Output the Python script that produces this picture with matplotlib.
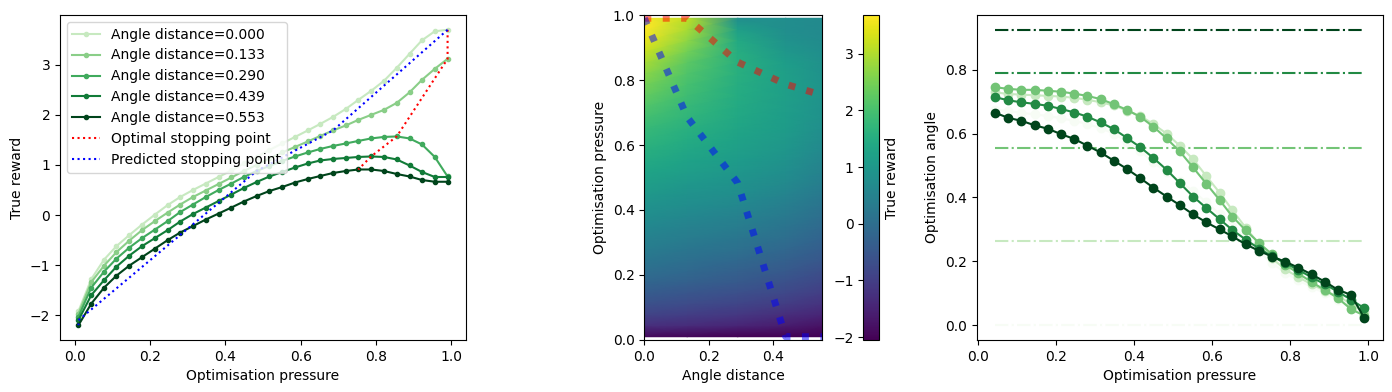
import numpy as np
import matplotlib
matplotlib.use("Agg")
import matplotlib.pyplot as plt

# Angle distances of the five slices
angles = [0.000, 0.133, 0.290, 0.439, 0.553]

# Optimisation pressure grid
pressures = [0.010, 0.044, 0.078, 0.111, 0.145, 0.179, 0.213, 0.247, 0.280, 0.314,
             0.348, 0.382, 0.416, 0.449, 0.483, 0.517, 0.551, 0.585, 0.619, 0.652,
             0.686, 0.720, 0.753, 0.787, 0.821, 0.855, 0.889, 0.922, 0.956, 0.990]

# True reward along pressure, one list per angle distance
reward_000 = [-1.92, -1.28, -0.89, -0.62, -0.40, -0.19, 0.01, 0.20, 0.36, 0.50,
              0.63, 0.76, 0.89, 1.03, 1.16, 1.30, 1.43, 1.56, 1.69, 1.82,
              1.96, 2.12, 2.30, 2.48, 2.68, 2.94, 3.22, 3.49, 3.67, 3.70]
reward_133 = [-1.97, -1.34, -1.01, -0.74, -0.51, -0.30, -0.12, 0.05, 0.21, 0.36,
              0.49, 0.62, 0.75, 0.88, 1.00, 1.13, 1.25, 1.36, 1.47, 1.58,
              1.69, 1.79, 1.90, 2.00, 2.10, 2.24, 2.45, 2.70, 2.92, 3.12]
reward_290 = [-2.03, -1.45, -1.13, -0.87, -0.65, -0.46, -0.29, -0.12, 0.06, 0.21,
              0.36, 0.50, 0.63, 0.76, 0.88, 0.98, 1.08, 1.17, 1.25, 1.32,
              1.38, 1.43, 1.48, 1.53, 1.56, 1.57, 1.53, 1.41, 1.16, 0.77]
reward_439 = [-2.10, -1.60, -1.30, -1.03, -0.81, -0.62, -0.46, -0.30, -0.13, 0.02,
              0.15, 0.28, 0.41, 0.54, 0.66, 0.77, 0.86, 0.95, 1.03, 1.09,
              1.12, 1.14, 1.16, 1.17, 1.16, 1.11, 0.99, 0.86, 0.76, 0.76]
reward_553 = [-2.20, -1.77, -1.45, -1.21, -1.01, -0.84, -0.67, -0.50, -0.35, -0.22,
              -0.09, 0.03, 0.15, 0.27, 0.38, 0.48, 0.56, 0.65, 0.72, 0.78,
              0.84, 0.88, 0.91, 0.91, 0.88, 0.82, 0.77, 0.70, 0.665, 0.665]
rewards = [reward_000, reward_133, reward_290, reward_439, reward_553]

# Index of the predicted stopping pressure for each slice
predicted_idx = [29, 20, 14, 0, 0]

# Right panel: optimisation angle against pressure (pressures[1:])
angle_c0 = [0.675, 0.670, 0.665, 0.660, 0.655, 0.648, 0.640, 0.630, 0.617, 0.600,
            0.575, 0.545, 0.510, 0.480, 0.450, 0.420, 0.385, 0.348, 0.310, 0.270,
            0.230, 0.195, 0.165, 0.140, 0.120, 0.100, 0.080, 0.060, 0.030]
angle_c1 = [0.729, 0.724, 0.722, 0.720, 0.718, 0.716, 0.712, 0.706, 0.698, 0.688,
            0.672, 0.655, 0.630, 0.600, 0.562, 0.520, 0.467, 0.415, 0.360, 0.305,
            0.255, 0.210, 0.175, 0.150, 0.128, 0.108, 0.090, 0.068, 0.040]
angle_c2 = [0.745, 0.740, 0.737, 0.737, 0.734, 0.731, 0.725, 0.718, 0.708, 0.692,
            0.674, 0.652, 0.622, 0.585, 0.544, 0.494, 0.443, 0.392, 0.340, 0.297,
            0.258, 0.222, 0.190, 0.162, 0.135, 0.110, 0.085, 0.050, 0.030]
angle_c3 = [0.714, 0.704, 0.698, 0.693, 0.687, 0.677, 0.666, 0.653, 0.635, 0.614,
            0.586, 0.557, 0.524, 0.487, 0.445, 0.403, 0.367, 0.332, 0.298, 0.268,
            0.240, 0.216, 0.195, 0.173, 0.150, 0.128, 0.105, 0.080, 0.053]
angle_c4 = [0.665, 0.649, 0.640, 0.626, 0.615, 0.598, 0.583, 0.562, 0.541, 0.515,
            0.489, 0.460, 0.431, 0.403, 0.376, 0.347, 0.322, 0.300, 0.278, 0.253,
            0.233, 0.215, 0.199, 0.180, 0.159, 0.136, 0.111, 0.095, 0.022]
opt_angles = [angle_c0, angle_c1, angle_c2, angle_c3, angle_c4]
reference_angles = [0.0, 0.265, 0.555, 0.79, 0.925]

P = np.array(pressures)
R = np.array(rewards)
best_idx = R.argmax(axis=1)

left_colors = plt.cm.Greens(np.linspace(0.25, 1.0, 5))
right_colors = plt.cm.Greens(np.linspace(0.0, 1.0, 5))

fig = plt.figure(figsize=(13.92, 3.92), dpi=100)
ax1 = fig.add_axes([0.0431, 0.1327, 0.2917, 0.829])
ax2 = fig.add_axes([0.4629, 0.1327, 0.1279, 0.829])
cax = fig.add_axes([0.6202, 0.1327, 0.0115, 0.829])
ax3 = fig.add_axes([0.7017, 0.1327, 0.2917, 0.829])

# Left: reward curves
for a, r, c in zip(angles, rewards, left_colors):
    ax1.plot(P, r, marker='o', markersize=3, color=c, label=f'Angle distance={a:.3f}')
ax1.plot(P[best_idx], R[np.arange(5), best_idx], ':', color='red', label='Optimal stopping point')
ax1.plot(P[predicted_idx], R[np.arange(5), predicted_idx], ':', color='blue', label='Predicted stopping point')
ax1.set_xlabel("Optimisation pressure")
ax1.set_ylabel("True reward")
ax1.legend(loc='upper left')

# Middle: heatmap
mesh = ax2.pcolormesh(angles, P, R.T, shading='gouraud', cmap='viridis', vmin=-2.05, vmax=3.68)
ax2.plot(angles, P[best_idx], ':', color='red', linewidth=5, alpha=0.5)
ax2.plot(angles, P[predicted_idx], ':', color='blue', linewidth=5, alpha=0.5)
ax2.set_xlim(0, angles[-1])
ax2.set_ylim(0, 1)
ax2.set_xlabel("Angle distance")
ax2.set_ylabel("Optimisation pressure")
cb = fig.colorbar(mesh, cax=cax)
cax.yaxis.set_ticks_position('left')
cax.yaxis.set_label_position('right')
cb.set_label("True reward")

# Right: optimisation angle
xr = P[1:]
ax3.hlines(reference_angles, xr[0], xr[-1], colors=right_colors, linestyles='-.')
for a, c in zip(opt_angles, right_colors):
    ax3.plot(xr, a, marker='o', markersize=6, color=c)
ax3.set_xlabel("Optimisation pressure")
ax3.set_ylabel("Optimisation angle")

plt.savefig("out.png", dpi=100)
plt.close()
